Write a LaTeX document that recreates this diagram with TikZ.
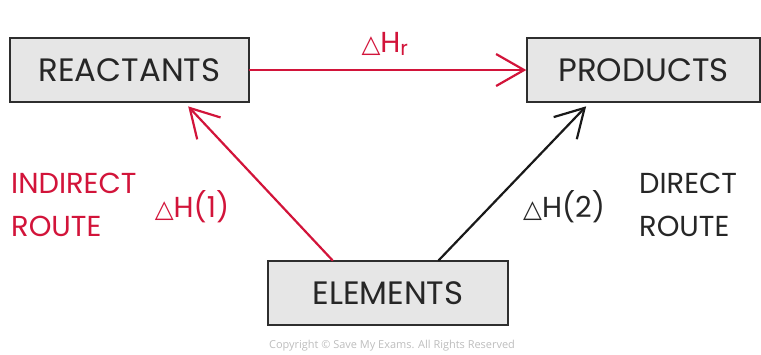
\documentclass[tikz,border=0pt]{standalone}
\usepackage{fontspec}
\setmainfont{Poppins}
\newfontfamily\symfont{DejaVu Sans}
\newfontfamily\notefont{Open Sans}
\definecolor{routered}{HTML}{D2143A}
\definecolor{boxgray}{HTML}{E6E6E6}
\definecolor{edgegray}{HTML}{2E2E2E}
\definecolor{notegray}{HTML}{BDBDBD}
\usetikzlibrary{arrows.meta, calc, positioning}
\newcommand{\dH}
{
	{\symfont\scalebox{0.85}{△}}H%
}

\begin{document}
\begin{tikzpicture}[x=1bp, y=-1bp,
	every node/.append style={
		text=black!85, font=\fontsize{32.5}{38}\selectfont},
	box/.style={draw=edgegray, fill=boxgray, line width=1.4bp, minimum height=64bp, inner sep=0pt},
	route/.style={line width=2.2bp, line cap=round, -{Straight Barb[length=28bp, width=32bp, line width=2.2bp]}},
	tag/.style={font=\fontsize{29}{43}\selectfont, inner sep=0pt}]

	\useasboundingbox (0,0) rectangle (761,354);

	\node[box, minimum width=239bp] (reactants) at (129.5, 70) {REACTANTS};
	\node[box, minimum width=233bp] (products) at (643.5, 70) {PRODUCTS};
	\node[box, minimum width=240bp] (elements) at (388, 293) {ELEMENTS};

	\node[tag, text=routered] (dHr) at (385, 44) {\dH\textsubscript{r}};
	\node[tag, text=routered] (dH1) at (192, 207) {\dH(1)};
	\node[tag] (dH2) at (564, 207) {\dH(2)};
	\node[tag, text=routered, align=left, anchor=west] (indirect) at (11, 205) {INDIRECT\\ROUTE};
	\node[tag, align=left, anchor=west] (direct) at (639, 205) {DIRECT\\ROUTE};

	\node[text=notegray, font=\notefont\fontsize{11}{13}\selectfont] (copyright) at (392, 346) {Copyright © Save My Exams. All Rights Reserved};

	\draw[route, routered] (reactants.east) -- (products.west);
	\draw[route, routered, shorten >=5bp] ($(elements.north west)!0.27!(elements.north east)$) -- ($(reactants.south west)!0.73!(reactants.south east)$);
	\draw[route, black!90, shorten >=5bp] ($(elements.north west)!0.71!(elements.north east)$) -- ($(products.south west)!0.27!(products.south east)$);
\end{tikzpicture}
\end{document}
